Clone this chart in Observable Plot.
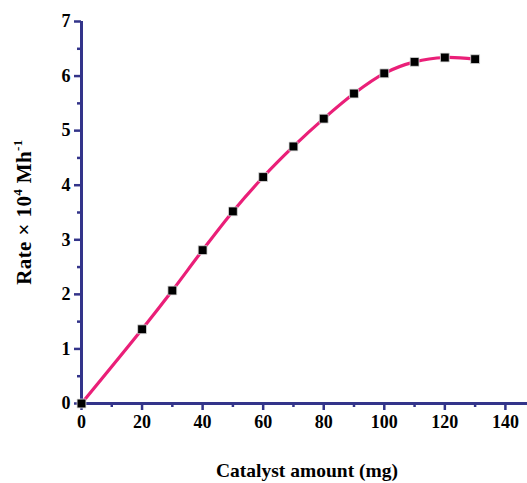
<!DOCTYPE html>
<html>
<head>
<meta charset="utf-8">
<script src="https://cdn.jsdelivr.net/npm/d3@7"></script>
<script src="https://cdn.jsdelivr.net/npm/@observablehq/plot@0.6"></script>
<style>
  html, body { margin: 0; padding: 0; background: #fff; }
  #chart svg { display: block; }
</style>
</head>
<body>
<div id="chart"></div>
<script>
const catalystAmount = [0, 20, 30, 40, 50, 60, 70, 80, 90, 100, 110, 120, 130];
const rate = [0, 1.36, 2.07, 2.81, 3.52, 4.15, 4.71, 5.22, 5.68, 6.05, 6.26, 6.34, 6.31];
const xMajorTicks = [0, 20, 40, 60, 80, 100, 120, 140];
const xMinorTicks = [10, 30, 50, 70, 90, 110, 130];
const yMajorTicks = [0, 1, 2, 3, 4, 5, 6, 7];
const yMinorTicks = [0.5, 1.5, 2.5, 3.5, 4.5, 5.5, 6.5];
const xLabel = "Catalyst amount (mg)";

const data = catalystAmount.map((x, i) => ({x, y: rate[i]}));
const axisColor = "#33348a";
const font = "'Liberation Serif', 'Times New Roman', serif";

const chart = Plot.plot({
  width: 527,
  height: 483,
  marginLeft: 81,
  marginRight: 0,
  marginTop: 21,
  marginBottom: 80,
  style: {fontFamily: font, fontWeight: "bold", fontSize: "18px", background: "#fff", color: "#000"},
  x: {domain: [0, 147.3], label: null},
  y: {domain: [0, 7], label: null},
  marks: [
    Plot.axisX({ticks: xMinorTicks, tickSize: 4, tickFormat: () => "", stroke: axisColor, strokeWidth: 2.5}),
    Plot.axisX({ticks: xMajorTicks, tickSize: 7, tickPadding: 5, tickFormat: d => String(d), stroke: axisColor, strokeWidth: 2.5, fill: "#000", fontSize: 18, fontWeight: "bold"}),
    Plot.axisY({ticks: yMinorTicks, tickSize: 4, tickFormat: () => "", stroke: axisColor, strokeWidth: 2.5}),
    Plot.axisY({ticks: yMajorTicks, tickSize: 7, tickPadding: 4, tickFormat: d => String(d), stroke: axisColor, strokeWidth: 2.5, fill: "#000", fontSize: 18, fontWeight: "bold"}),
    Plot.ruleY([0], {stroke: axisColor, strokeWidth: 3}),
    Plot.ruleX([0], {y1: 0, y2: 7, stroke: axisColor, strokeWidth: 3}),
    Plot.line(data, {x: "x", y: "y", stroke: "#ea1f78", strokeWidth: 3.2, curve: "catmull-rom"}),
    Plot.dot(data, {x: "x", y: "y", symbol: "square", r: 5, fill: "#000", stroke: "#ddd", strokeWidth: 0.8})
  ]
});

const svg = d3.select(chart);
svg.append("text")
  .attr("x", 307).attr("y", 477)
  .attr("text-anchor", "middle")
  .attr("font-family", font).attr("font-weight", "bold").attr("font-size", 19.5)
  .attr("fill", "#000")
  .text(xLabel);

const yl = svg.append("text")
  .attr("transform", "translate(31,212) rotate(-90)")
  .attr("text-anchor", "middle")
  .attr("font-family", font).attr("font-weight", "bold").attr("font-size", 21)
  .attr("letter-spacing", 0.4)
  .attr("fill", "#000");
yl.append("tspan").text("Rate \u00D7 10");
yl.append("tspan").attr("font-size", 13).attr("dy", -9).text("4");
yl.append("tspan").attr("dy", 9).text(" Mh");
yl.append("tspan").attr("font-size", 13).attr("dy", -9).text("-1");

document.getElementById("chart").appendChild(chart);
</script>
</body>
</html>
